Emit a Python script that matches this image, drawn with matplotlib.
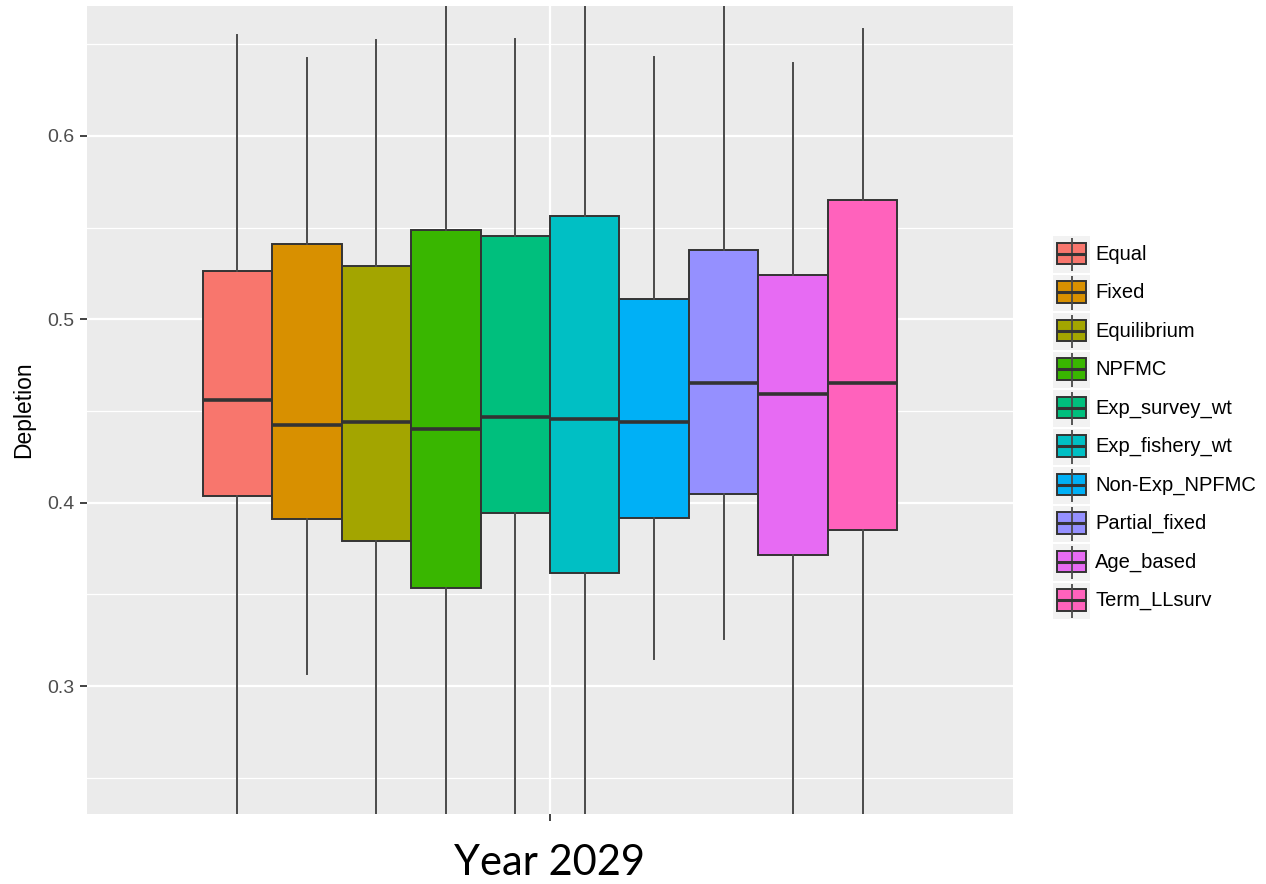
import matplotlib
matplotlib.use("Agg")
import matplotlib.pyplot as plt
from matplotlib.patches import Rectangle

# Management strategies and their depletion summaries in 2029
strategies = ["Equal", "Fixed", "Equilibrium", "NPFMC", "Exp_survey_wt",
              "Exp_fishery_wt", "Non-Exp_NPFMC", "Partial_fixed", "Age_based",
              "Term_LLsurv"]
q1 = [0.4037, 0.3910, 0.3791, 0.3537, 0.3944, 0.3617, 0.3917, 0.4046, 0.3717, 0.3853]
median = [0.4558, 0.4422, 0.4440, 0.4403, 0.4467, 0.4458, 0.4442, 0.4651, 0.4594, 0.4651]
q3 = [0.5263, 0.5409, 0.5289, 0.5489, 0.5453, 0.5563, 0.5109, 0.5380, 0.5243, 0.5652]
whisker_low = [0.200, 0.3066, 0.205, 0.195, 0.210, 0.200, 0.3146, 0.3255, 0.205, 0.200]
whisker_high = [0.6550, 0.6423, 0.6521, 0.695, 0.6530, 0.700, 0.6432, 0.685, 0.6396, 0.6584]
colors = ["#F8766D", "#D89000", "#A3A500", "#39B600", "#00BF7D",
          "#00BFC4", "#00B0F6", "#9590FF", "#E76BF3", "#FF62BC"]
y_ticks = [0.3, 0.4, 0.5, 0.6]
y_minor = [0.25, 0.35, 0.45, 0.55, 0.65]

plt.rcParams["font.family"] = ["Liberation Sans", "DejaVu Sans"]

W, H = 1266, 884
fig = plt.figure(figsize=(W / 100, H / 100), dpi=100)
ax = fig.add_axes([87 / W, 70 / H, 926 / W, 808 / H])
ax.set_facecolor("#EBEBEB")
for s in ax.spines.values():
    s.set_visible(False)

n = len(strategies)
box_w = 0.075
positions = [1 + (i - (n - 1) / 2) * box_w for i in range(n)]

stats = []
for i in range(n):
    stats.append(dict(med=median[i], q1=q1[i], q3=q3[i],
                      whislo=whisker_low[i], whishi=whisker_high[i],
                      fliers=[], label=strategies[i]))

edge = "#333333"
bp = ax.bxp(stats, positions=positions, widths=box_w, patch_artist=True,
            showcaps=False, showfliers=False, manage_ticks=False,
            boxprops=dict(edgecolor=edge, linewidth=1.4),
            whiskerprops=dict(color="#4a4a4a", linewidth=1.4),
            medianprops=dict(color=edge, linewidth=2.6, solid_capstyle="butt"),
            zorder=3)
for patch, c in zip(bp["boxes"], colors):
    patch.set_facecolor(c)

ax.set_xlim(0.5, 1.5)
ax.set_ylim(0.2303, 0.6708)

# panel grid
for y in y_minor:
    ax.axhline(y, color="white", lw=0.9, zorder=1)
for y in y_ticks:
    ax.axhline(y, color="white", lw=1.6, zorder=1)
ax.axvline(1.0, color="white", lw=1.6, zorder=1)

ax.set_yticks(y_ticks)
ax.set_yticklabels([f"{v:.1f}" for v in y_ticks])
ax.set_xticks([1.0])
ax.set_xticklabels([""])
ax.tick_params(axis="both", colors="#333333", length=5, width=1.3,
               labelcolor="#4D4D4D", labelsize=14, pad=4)

ax.set_ylabel("Depletion", fontsize=16.5, color="black", labelpad=9)
fig.text(550 / W, 2 / H, "Year 2029", fontsize=30, ha="center",
         va="bottom", family=["Lato", "DejaVu Sans"])

# legend drawn in a pixel-scaled overlay
lax = fig.add_axes([0, 0, 1, 1], facecolor="none")
lax.set_xlim(0, W)
lax.set_ylim(H, 0)
lax.axis("off")

key_x, key_w, key_h = 1053, 37, 36.7
first_top, step = 236, 38.5
for i, (name, c) in enumerate(zip(strategies, colors)):
    top = first_top + i * step
    cx = key_x + key_w / 2
    lax.add_patch(Rectangle((key_x, top), key_w, key_h,
                            facecolor="#F2F2F2", edgecolor="none"))
    lax.plot([cx, cx], [top + 1.5, top + key_h - 1.5], color="#4a4a4a",
             lw=1.3, solid_capstyle="butt")
    lax.add_patch(Rectangle((key_x + 4, top + 6.8), key_w - 8, 21.5,
                            facecolor=c, edgecolor=edge, lw=1.4))
    lax.plot([key_x + 4, key_x + key_w - 4], [top + 17.5, top + 17.5],
             color=edge, lw=2.2, solid_capstyle="butt")
    lax.text(1095, top + key_h / 2, name, fontsize=14.5, color="black",
             ha="left", va="center")

fig.savefig("out.png", dpi=100)
